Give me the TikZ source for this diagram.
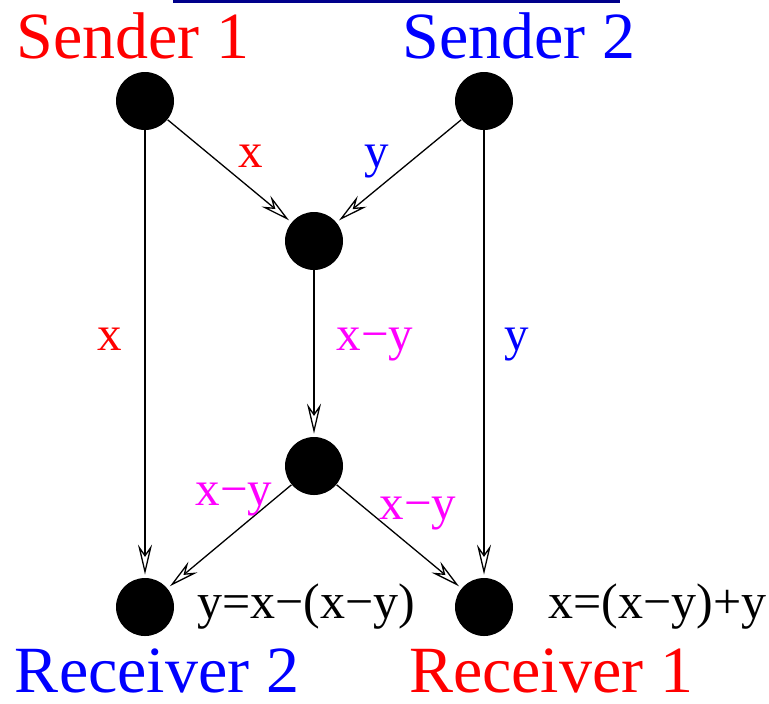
\documentclass[tikz,border=0pt]{standalone}
\usepackage{fontspec}
\setmainfont{Liberation Serif}
\usetikzlibrary{arrows.meta}
\definecolor{srcred}{RGB}{255,0,0}
\definecolor{srcblue}{RGB}{0,0,255}
\definecolor{mixmag}{RGB}{255,0,255}
\definecolor{barnavy}{RGB}{0,0,139}
\tikzset{
  dot/.style={circle,fill=black,minimum size=29pt,inner sep=0pt},
  flow/.style={-{Stealth[open,length=15pt,width=7pt,inset=5pt]},line width=0.65pt,shorten >=1.5pt},
  role/.style={font=\fontsize{33}{40}\selectfont,anchor=base,inner sep=0pt,text depth=0pt},
  elbl/.style={font=\fontsize{24.5}{30}\selectfont,anchor=base,inner sep=0pt},
  eqn/.style={font=\fontsize{25}{30}\selectfont,anchor=base west,inner sep=0pt},
}
\begin{document}
\begin{tikzpicture}[x=0.5pt,y=-0.5pt]
  \useasboundingbox (0,0) rectangle (769,703);
  % bar at the top edge
  \fill[barnavy] (173,0) rectangle (620,3);
  % network nodes
  \node[dot] (s1) at (145,101) {};
  \node[dot] (s2) at (484,101) {};
  \node[dot] (mix) at (314,241) {};
  \node[dot] (relay) at (314,466) {};
  \node[dot] (r2) at (145,607) {};
  \node[dot] (r1) at (484,607) {};
  % links
  \draw[flow] (s1) -- (mix);
  \draw[flow] (s2) -- (mix);
  \draw[flow] (s1) -- (r2);
  \draw[flow] (s2) -- (r1);
  \draw[flow] (mix) -- (relay);
  \draw[flow] (relay) -- (r2);
  \draw[flow] (relay) -- (r1);
  % roles
  \node[role,text=srcred] (ls1) at (133,58) {Sender 1};
  \node[role,text=srcblue] (ls2) at (519,58) {Sender 2};
  \node[role,text=srcblue] (lr2) at (157,692) {Receiver 2};
  \node[role,text=srcred] (lr1) at (551,692) {Receiver 1};
  % link labels
  \node[elbl,text=srcred] (ax) at (251,167) {x};
  \node[elbl,text=srcblue] (ay) at (377,167) {y};
  \node[elbl,text=srcred] (bx) at (110,350) {x};
  \node[elbl,text=mixmag] (bxy) at (375,350) {x−y};
  \node[elbl,text=srcblue] (by) at (517,350) {y};
  \node[elbl,text=mixmag] (cl) at (234,505) {x−y};
  \node[elbl,text=mixmag] (cr) at (418,519) {x−y};
  % decoding
  \node[eqn] (dec2) at (197,618) {y=x−(x−y)};
  \node[eqn] (dec1) at (548,618) {x=(x−y)+y};
\end{tikzpicture}
\end{document}
